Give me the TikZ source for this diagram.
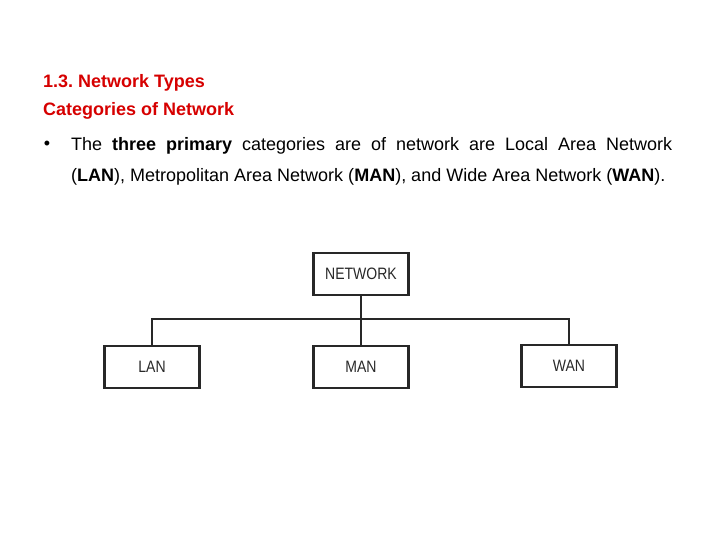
\documentclass[tikz,border=0pt]{standalone}
\usepackage{fontspec}
\setmainfont{Liberation Sans}
\newfontfamily\boxfont[FakeStretch=0.85]{Liberation Sans}
\usetikzlibrary{positioning}

\definecolor{headred}{RGB}{214,0,0}
\definecolor{boxgray}{RGB}{40,40,40}

\tikzset{
  catbox/.style={draw=boxgray, line width=2.2pt, minimum width=95pt, minimum height=42pt,
    font=\boxfont\fontsize{16.5}{19}\selectfont, text=boxgray},
  heading/.style={anchor=base west, text=headred, inner sep=0pt,
    font=\bfseries\fontsize{18}{21}\selectfont},
  link/.style={draw=boxgray, line width=1.6pt}
}

\begin{document}
\frenchspacing
\begin{tikzpicture}[x=1pt, y=-1pt]
\useasboundingbox (0,0) rectangle (720,540);

% Title lines
\node[heading] (title) at (43,87.5) {1.3. Network Types};
\node[heading] (sub) at (43,116) {Categories of Network};

% Bullet point
\node[anchor=base, inner sep=0pt, font=\fontsize{18}{21}\selectfont] (dot) at (47,150) {\textbullet};
\node[anchor=north west, inner sep=0pt, text width=601pt, align=justify,
  font=\fontsize{18}{31}\selectfont] (body) at (71,137.5)
  {The \textbf{three primary} categories are of network are Local Area Network\linebreak
   (\textbf{LAN}), Metropolitan Area Network (\textbf{MAN}), and Wide Area Network (\textbf{WAN}).};

% Tree of network types
\node[catbox] (net) at (361,274) {NETWORK};
\node[catbox] (lan) at (152,367) {LAN};
\node[catbox] (man) at (361,367) {MAN};
\node[catbox] (wan) at (569,366) {WAN};

\coordinate (bar) at (361,319);

\draw[link] (net.south) -- (man.north);
\draw[link] (lan.north) -- (lan.north |- bar) -- (wan.north |- bar) -- (wan.north);

\end{tikzpicture}
\end{document}
